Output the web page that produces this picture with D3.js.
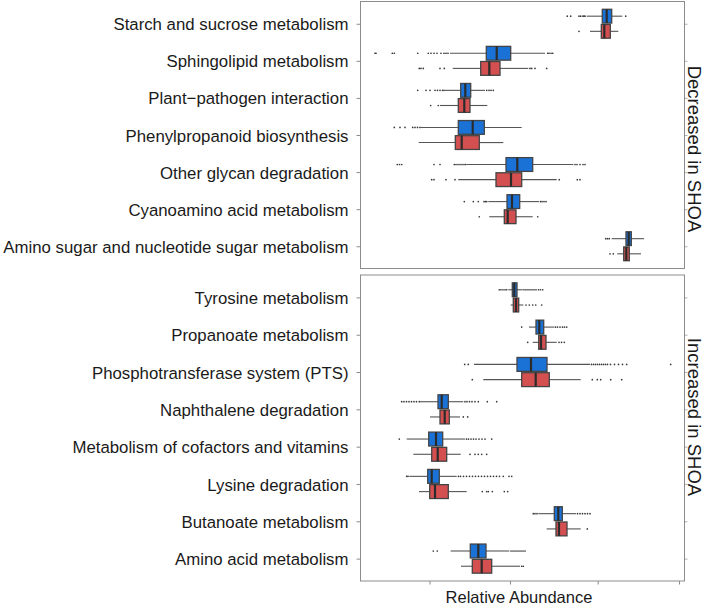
<!DOCTYPE html>
<html>
<head>
<meta charset="utf-8">
<script src="https://cdn.jsdelivr.net/npm/d3@7"></script>
<style>
  html, body { margin: 0; padding: 0; background: #fff; }
  svg { display: block; font-family: "Liberation Sans", Arial, sans-serif; }
</style>
</head>
<body>
<svg id="chart" width="709" height="606"></svg>
<script>
// ---------------- DATA ----------------
const panels = ["Decreased in SHOA", "Increased in SHOA"];
const categoriesTop = [
  "Starch and sucrose metabolism",
  "Sphingolipid metabolism",
  "Plant\u2212pathogen interaction",
  "Phenylpropanoid biosynthesis",
  "Other glycan degradation",
  "Cyanoamino acid metabolism",
  "Amino sugar and nucleotide sugar metabolism"
];
const categoriesBottom = [
  "Tyrosine metabolism",
  "Propanoate metabolism",
  "Phosphotransferase system (PTS)",
  "Naphthalene degradation",
  "Metabolism of cofactors and vitamins",
  "Lysine degradation",
  "Butanoate metabolism",
  "Amino acid metabolism"
];
const groups = ["Control", "SHOA"];
const groupColors = ["#1a72d6", "#d44f50"];

// [lower whisker, Q1, median, Q3, upper whisker] (relative abundance, arbitrary units)
const statsControl = [
  [2.262, 2.418, 2.462, 2.512, 2.618],
  [0.895, 1.258, 1.362, 1.502, 1.845],
  [0.845, 1.002, 1.048, 1.102, 1.245],
  [0.605, 0.978, 1.122, 1.238, 1.612],
  [1.062, 1.455, 1.568, 1.722, 2.128],
  [1.278, 1.465, 1.515, 1.592, 1.785],
  [2.512, 2.655, 2.682, 2.708, 2.835],
  [1.478, 1.518, 1.538, 1.565, 1.622],
  [1.685, 1.755, 1.788, 1.832, 1.938],
  [1.135, 1.565, 1.705, 1.865, 2.295],
  [0.595, 0.775, 0.812, 0.878, 1.028],
  [0.462, 0.682, 0.755, 0.822, 1.045],
  [0.488, 0.672, 0.712, 0.788, 0.962],
  [1.778, 1.938, 1.978, 2.018, 2.155],
  [0.902, 1.098, 1.178, 1.255, 1.488]
];
const statsSHOA = [
  [2.295, 2.408, 2.438, 2.498, 2.578],
  [0.922, 1.202, 1.288, 1.395, 1.678],
  [0.795, 0.978, 1.038, 1.095, 1.268],
  [0.582, 0.948, 1.012, 1.188, 1.428],
  [0.978, 1.355, 1.505, 1.612, 1.962],
  [1.288, 1.438, 1.472, 1.555, 1.722],
  [2.568, 2.632, 2.658, 2.688, 2.805],
  [1.502, 1.528, 1.555, 1.582, 1.628],
  [1.722, 1.782, 1.805, 1.855, 1.962],
  [1.228, 1.612, 1.752, 1.888, 2.202],
  [0.695, 0.795, 0.842, 0.888, 0.995],
  [0.528, 0.712, 0.772, 0.862, 1.002],
  [0.585, 0.692, 0.745, 0.878, 1.062],
  [1.862, 1.955, 1.985, 2.065, 2.202],
  [1.005, 1.118, 1.212, 1.312, 1.595]
];
const outliersControl = [
  [2.068, 2.102, 2.185, 2.202, 2.225, 2.235, 2.245, 2.652],
  [0.145, 0.155, 0.318, 0.338, 0.572, 0.678, 0.705, 0.735, 0.765, 0.805, 0.835, 0.855, 0.875, 1.872, 1.885, 1.905, 1.922],
  [0.572, 0.655, 0.695, 0.745, 0.77, 0.795, 0.82, 0.835, 1.262, 1.285, 1.305, 1.328],
  [0.338, 0.395, 0.445, 0.522, 0.545, 0.57, 0.595],
  [0.368, 0.39, 0.412, 0.735, 0.795, 0.938, 0.955, 0.975, 0.995, 1.015, 1.035, 1.052, 2.145, 2.165, 2.195, 2.225, 2.245],
  [1.038, 1.128, 1.178, 1.235, 1.248, 1.262, 1.80, 1.815, 1.835, 1.855],
  [2.452, 2.47, 2.488],
  [1.388, 1.405, 1.425, 1.445, 1.462, 1.635, 1.655, 1.675, 1.695, 1.715, 1.735, 1.755, 1.78, 1.80, 1.822],
  [1.612, 1.95, 1.97, 1.995, 2.02, 2.04, 2.062],
  [1.042, 1.078, 2.31, 2.33, 2.35, 2.37, 2.39, 2.41, 2.43, 2.45, 2.47, 2.50, 2.54, 2.58, 2.62, 2.662, 3.102],
  [0.412, 0.435, 0.46, 0.485, 0.51, 0.535, 0.56, 0.588, 1.045, 1.065, 1.09, 1.115, 1.145, 1.178, 1.268, 1.362],
  [0.388, 1.06, 1.08, 1.105, 1.13, 1.155, 1.185, 1.215, 1.245, 1.312],
  [0.462, 0.475, 0.98, 1.0, 1.03, 1.06, 1.09, 1.12, 1.15, 1.18, 1.21, 1.24, 1.27, 1.30, 1.33, 1.36, 1.39, 1.428, 1.485, 1.512],
  [1.728, 1.745, 1.765, 2.17, 2.195, 2.22, 2.245, 2.27, 2.295],
  [0.728, 0.768, 1.505, 1.525, 1.545, 1.565, 1.585, 1.605, 1.625, 1.645]
];
const outliersSHOA = [
  [2.185],
  [0.588, 0.605, 0.628, 0.795, 0.838, 1.695, 1.712, 1.745, 1.862],
  [0.702, 0.778],
  [],
  [0.712, 0.735, 0.855, 0.945, 1.988, 2.168, 2.195],
  [1.188, 1.772],
  [2.495, 2.528],
  [1.655, 1.688, 1.722, 1.752, 1.812],
  [1.672, 1.985, 2.01, 2.038],
  [1.118, 2.318, 2.368, 2.402, 2.502, 2.612],
  [1.028, 1.072],
  [1.095, 1.145, 1.178, 1.212, 1.262],
  [1.218, 1.262, 1.278, 1.318, 1.438, 1.472],
  [2.268],
  [1.612, 1.628]
];
const xDomain = [0, 3.24];
const xTicks = [0.69, 1.495, 2.372, 3.185];
const xLabel = "Relative Abundance";

// ---------------- LAYOUT ----------------
const svg = d3.select("#chart");
const plotLeft = 360.5, plotRight = 684.5;
const panelBoxes = [
  { y0: 1.5, y1: 268.5, cats: categoriesTop, offset: 0, stripY: 149 },
  { y0: 275, y1: 581, cats: categoriesBottom, offset: categoriesTop.length, stripY: 417 }
];
const x = d3.scaleLinear().domain(xDomain).range([plotLeft, plotRight]);
const gray = "#8c8c8c";

panelBoxes.forEach((p, pi) => {
  const y = d3.scalePoint().domain(p.cats).range([p.y0, p.y1]).padding(0.6);
  const step = y.step();
  const sub = d3.scaleBand().domain(groups).range([-0.39 * step, 0.39 * step]).paddingInner(0.09);
  const g = svg.append("g");

  // left axis
  const ax = g.append("g").attr("transform", `translate(${plotLeft},0)`)
    .call(d3.axisLeft(y).tickSize(4).tickPadding(8));
  ax.select(".domain").remove();
  ax.selectAll(".tick line").attr("stroke", gray);
  ax.selectAll(".tick text").attr("font-size", "16.8px").attr("fill", "#1a1a1a")
    .attr("font-family", "'Liberation Sans', Arial, sans-serif").attr("dy", "0.36em");

  // right ticks (strip side)
  const axr = g.append("g").attr("transform", `translate(${plotRight},0)`)
    .call(d3.axisRight(y).tickSize(3).tickFormat(""));
  axr.select(".domain").remove();
  axr.selectAll(".tick line").attr("stroke", "#b0b0b0");

  // data rows
  const rows = [];
  p.cats.forEach((c, ci) => {
    const idx = p.offset + ci;
    groups.forEach((gname, gi) => {
      const s = gi === 0 ? statsControl[idx] : statsSHOA[idx];
      const o = gi === 0 ? outliersControl[idx] : outliersSHOA[idx];
      rows.push({ cat: c, group: gname, gi, s, o });
    });
  });

  const bw = sub.bandwidth();
  const rowG = g.selectAll("g.row").data(rows).join("g")
    .attr("class", "row")
    .attr("transform", d => `translate(0,${y(d.cat) + sub(d.group)})`);

  // whiskers
  rowG.append("line").attr("x1", d => x(d.s[0])).attr("x2", d => x(d.s[1]))
    .attr("y1", bw / 2).attr("y2", bw / 2).attr("stroke", "#555").attr("stroke-width", 1.1);
  rowG.append("line").attr("x1", d => x(d.s[3])).attr("x2", d => x(d.s[4]))
    .attr("y1", bw / 2).attr("y2", bw / 2).attr("stroke", "#555").attr("stroke-width", 1.1);

  // outliers
  rowG.selectAll("circle").data(d => d.o).join("circle")
    .attr("cx", v => x(v)).attr("cy", bw / 2).attr("r", 0.85).attr("fill", "#3a3a3a");

  // boxes
  rowG.append("rect").attr("x", d => x(d.s[1])).attr("width", d => x(d.s[3]) - x(d.s[1]))
    .attr("y", 0).attr("height", bw)
    .attr("fill", d => groupColors[d.gi]).attr("stroke", "#444").attr("stroke-width", 1.3);
  // medians
  rowG.append("line").attr("x1", d => x(d.s[2])).attr("x2", d => x(d.s[2]))
    .attr("y1", 0).attr("y2", bw).attr("stroke", "#2b2b2b").attr("stroke-width", 2.2);

  // panel border
  g.append("rect").attr("x", plotLeft).attr("y", p.y0)
    .attr("width", plotRight - plotLeft).attr("height", p.y1 - p.y0)
    .attr("fill", "none").attr("stroke", gray).attr("stroke-width", 1);

  // strip label
  g.append("text")
    .attr("transform", `translate(694.5,${p.stripY}) rotate(90)`)
    .attr("text-anchor", "middle").attr("dominant-baseline", "central")
    .attr("font-size", "18.5px").attr("fill", "#1a1a1a")
    .text(panels[pi]);

  // x axis for bottom panel
  if (pi === 1) {
    const axb = svg.append("g").attr("transform", `translate(0,${p.y1})`)
      .call(d3.axisBottom(x).tickValues(xTicks).tickSize(3.5).tickFormat(""));
    axb.select(".domain").remove();
    axb.selectAll(".tick line").attr("stroke", gray);
  }
});

svg.append("text").attr("x", 519).attr("y", 603)
  .attr("text-anchor", "middle").attr("font-size", "16.5px").attr("fill", "#1a1a1a")
  .text(xLabel);
</script>
</body>
</html>
